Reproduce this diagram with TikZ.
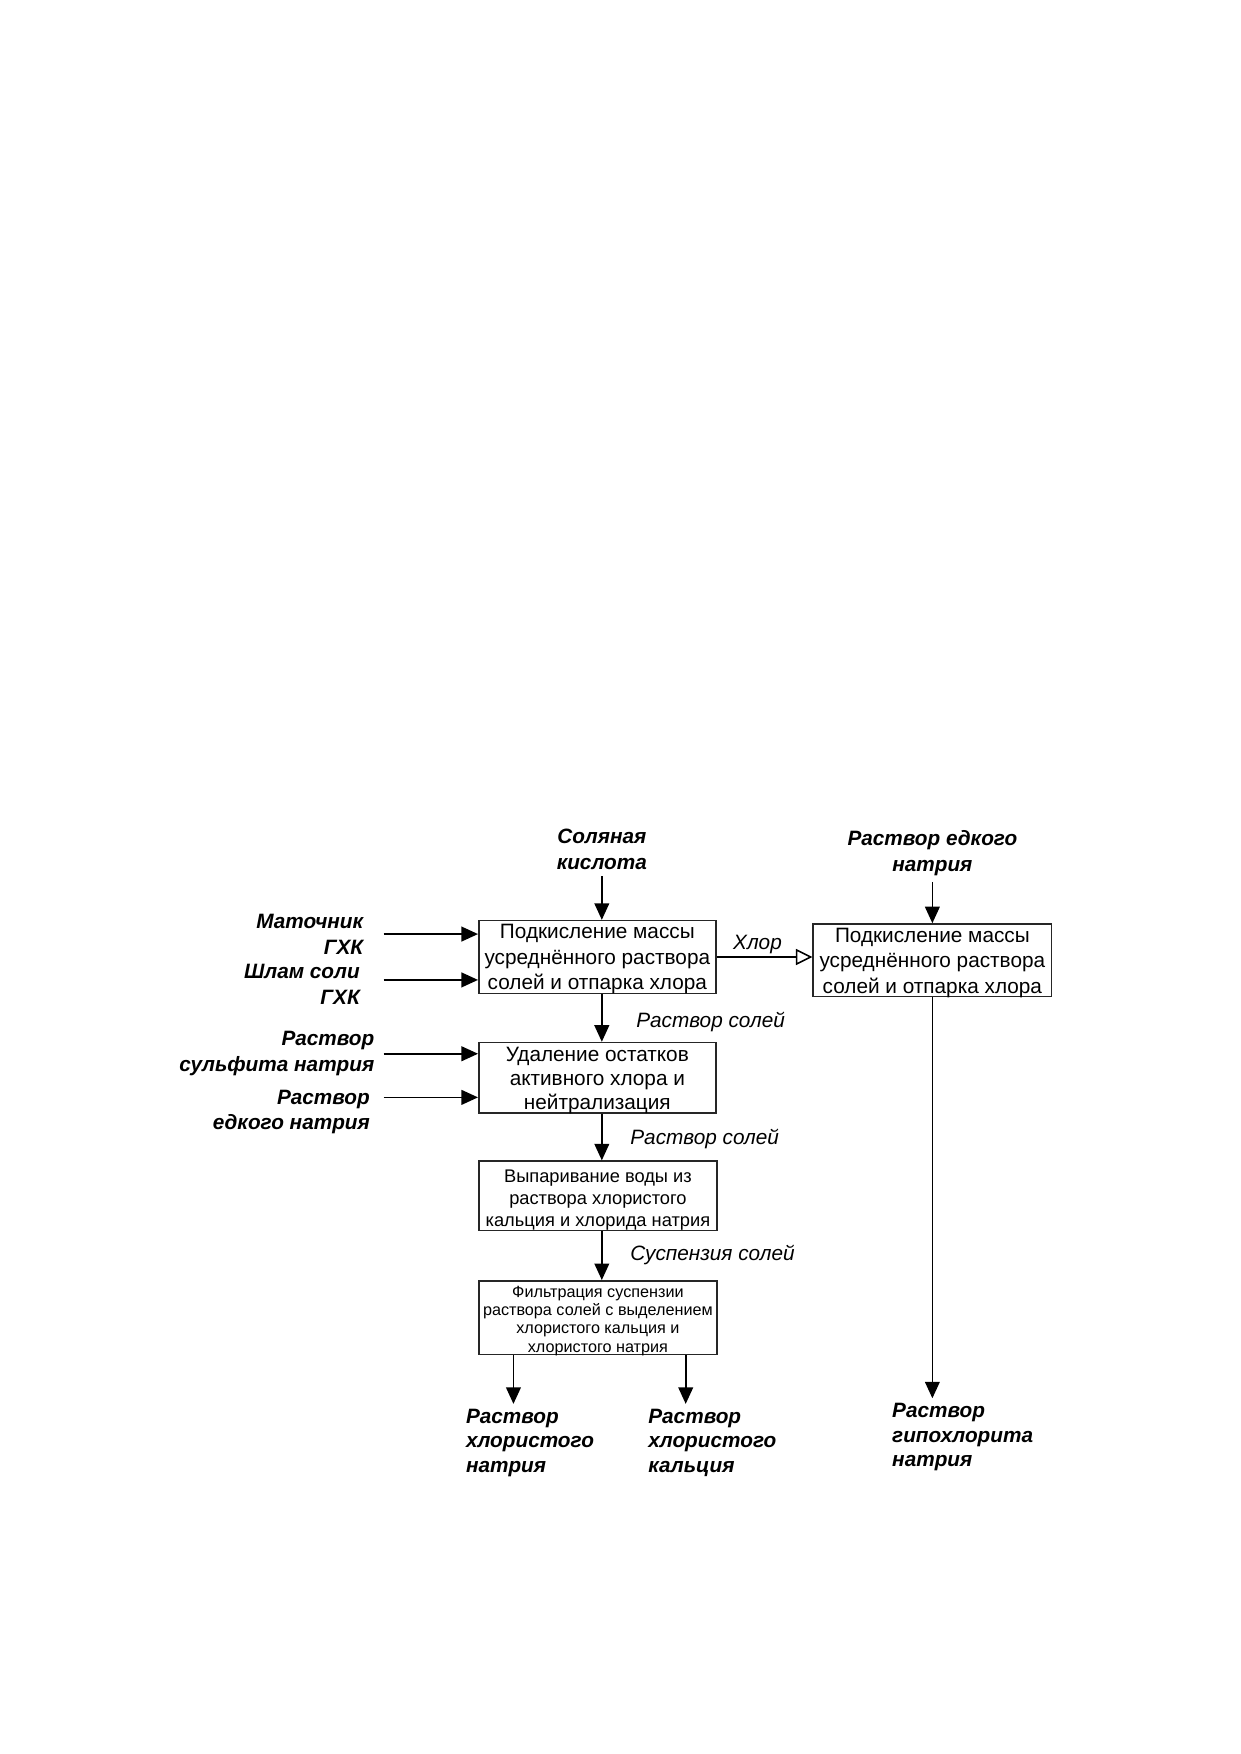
\documentclass[tikz,border=0pt]{standalone}
\usepackage{fontspec}
\setmainfont{Liberation Sans}
\usetikzlibrary{arrows.meta}
\begin{document}
\begin{tikzpicture}[x=0.18936mm,y=-0.18936mm,
  box/.style={draw=black!85, line width=0.75pt, inner sep=0pt},
  btext/.style={align=center, inner sep=0pt, font=\fontsize{10}{12.4}\selectfont},
  inlbl/.style={font=\fontsize{10}{12.4}\selectfont\bfseries\itshape, inner sep=0pt},
  outlbl/.style={font=\fontsize{10}{11.8}\selectfont\bfseries\itshape, inner sep=0.8mm, align=left, anchor=north west},
  flow/.style={font=\fontsize{10}{12}\selectfont\itshape, inner sep=0pt},
  arr/.style={line width=0.75pt, -{Triangle[length=2.8mm,width=2.5mm]}},
  oarr/.style={line width=0.75pt, -{Triangle[open,length=2.8mm,width=2.7mm]}}]
\useasboundingbox (0,0) rectangle (1109,1568);

% boxes
\node[box, minimum width=40.14mm, minimum height=12.31mm] (b1) at (534,855.5) {};
\node[btext] (b1t) at ([yshift=-0.35mm]b1.center)
  {Подкисление массы\\усреднённого раствора\\солей и отпарка хлора};
\node[box, minimum width=40.33mm, minimum height=12.31mm] (br) at (833.5,858.5) {};
\node[btext] (brt) at ([yshift=-0.45mm]br.center)
  {Подкисление массы\\усреднённого раствора\\солей и отпарка хлора};
\node[box, minimum width=40.14mm, minimum height=11.93mm] (b2) at (534,963.5) {};
\node[btext, font=\fontsize{10}{11.6}\selectfont] (b2t) at ([yshift=-0.4mm]b2.center)
  {Удаление остатков\\активного хлора и\\нейтрализация};
\node[box, minimum width=40.33mm, minimum height=11.74mm] (b3) at (534.5,1069) {};
\node[btext, font=\fontsize{8.8}{10.6}\selectfont] (b3t) at ([yshift=-0.65mm]b3.center)
  {Выпаривание воды из\\раствора хлористого\\кальция и хлорида натрия};
\node[box, minimum width=40.33mm, minimum height=12.5mm] (b4) at (534.5,1178) {};
\node[btext, font=\fontsize{7.8}{8.8}\selectfont] (b4t) at ([yshift=-0.5mm]b4.center)
  {Фильтрация суспензии\\раствора солей с выделением\\хлористого кальция и\\хлористого натрия};

% input labels
\node[inlbl, align=center] (sol) at (538,759.5) {Соляная\\кислота};
\node[inlbl, align=center] (ned) at (833.5,762.5) {Раствор едкого\\натрия};
\node[inlbl, align=right, anchor=east] (mat) at (325,835) {Маточник\\ГХК};
\node[inlbl, align=right, anchor=east] (shl) at (322,880) {Шлам соли\\ГХК};
\node[inlbl, align=right, anchor=east] (sul) at (335,942) {Раствор\\сульфита натрия};
\node[inlbl, align=right, anchor=east] (edk) at (331,994) {Раствор\\едкого натрия};

% output labels
\node[outlbl] (nacl) at (412,1255) {Раствор\\хлористого\\натрия};
\node[outlbl] (cacl) at (575,1255) {Раствор\\хлористого\\кальция};
\node[outlbl] (gip) at (793,1250) {Раствор\\гипохлорита\\натрия};

% helper coordinates
\coordinate (ax) at (538,0);
\coordinate (s1) at (343,835);
\coordinate (s2) at (343,876);
\coordinate (s3) at (343,942);
\coordinate (s4) at (343,981);
\coordinate (xa) at (459,0);
\coordinate (xb) at (613,0);

% connectors
\draw[arr] ([yshift=-1mm]sol.south) -- (sol.south |- b1.north);
\draw[arr] ([yshift=-1mm]ned.south) -- (ned.south |- br.north);
\draw[arr] (s1) -- (s1 -| b1.west);
\draw[arr] (s2) -- (s2 -| b1.west);
\draw[arr] (s3) -- (s3 -| b2.west);
\draw[arr] (s4) -- (s4 -| b2.west);
\draw[oarr] (b1.east) -- (b1.east -| br.west)
  node[flow, midway, above=0.4mm, xshift=-1.2mm] (chl) {Хлор};
\draw[arr] (b1.south -| ax) -- (b2.north -| ax)
  node[flow, midway, anchor=west, xshift=5.7mm, yshift=-0.6mm] (f1) {Раствор солей};
\draw[arr] (b2.south -| ax) -- (b3.north -| ax)
  node[flow, midway, anchor=west, xshift=4.7mm, yshift=-0.3mm] (f2) {Раствор солей};
\draw[arr] (b3.south -| ax) -- (b4.north -| ax)
  node[flow, midway, anchor=west, xshift=4.7mm, yshift=0.1mm] (f3) {Суспензия солей};
\draw[arr] (b4.south -| xa) -- (nacl.north -| xa);
\draw[arr] (b4.south -| xb) -- (cacl.north -| xb);
\draw[arr] (br.south) -- (br.south |- gip.north);
\end{tikzpicture}
\end{document}
